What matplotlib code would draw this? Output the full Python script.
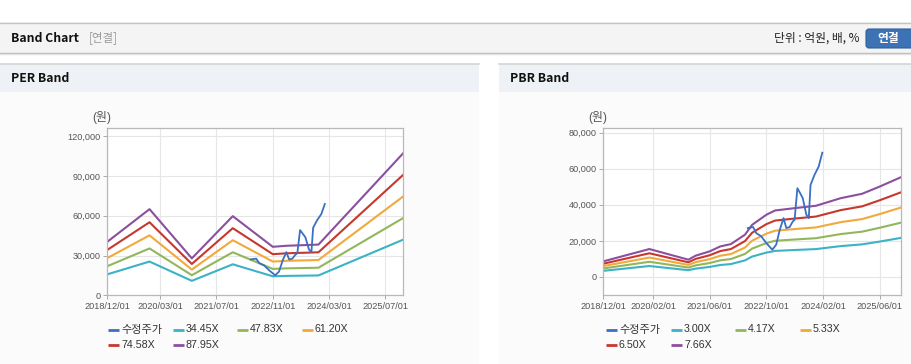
import pandas as pd
import numpy as np
import matplotlib
matplotlib.use("Agg")
import matplotlib.pyplot as plt
from matplotlib.patches import Rectangle, FancyBboxPatch
from matplotlib.ticker import FuncFormatter

plt.rcParams['font.family'] = ['Liberation Sans', 'Noto Sans CJK KR', 'DejaVu Sans']

W, H = 912, 364

# adjusted share price (수정주가)
price_dates = ["2022-04-25", "2022-06-10", "2022-07-07", "2022-08-19", "2022-10-01",
               "2022-11-22", "2022-12-25", "2023-01-25", "2023-02-26", "2023-03-22",
               "2023-04-19", "2023-05-16", "2023-06-01", "2023-06-25", "2023-07-19",
               "2023-08-10", "2023-09-10", "2023-10-01", "2023-10-16", "2023-11-19",
               "2023-12-25", "2024-01-25"]
price_values = [27100, 27650, 24300, 22500, 18800,
                15100, 17900, 26200, 32600, 27100,
                27650, 30700, 31700, 49200, 46400,
                43700, 34500, 32600, 51000, 56600,
                61200, 68900]

# PER band: EPS path and multiples
per_dates = ["2018-12-01", "2019-12-01", "2020-12-01", "2021-11-20", "2022-11-01",
             "2023-03-01", "2023-12-01", "2025-12-01"]
per_eps = [459, 739, 317, 679, 416, 425, 435, 1217]
per_multiples = [34.45, 47.83, 61.20, 74.58, 87.95]

# PBR band: BPS path and multiples
pbr_dates = ["2018-12-01", "2020-01-01", "2020-12-01", "2021-02-01", "2021-06-01",
             "2021-09-01", "2021-12-01", "2022-04-01", "2022-06-01", "2022-10-01",
             "2022-12-15", "2023-06-01", "2023-12-01", "2024-07-01", "2025-01-01",
             "2025-06-01", "2025-12-01"]
pbr_bps = [1130, 2020, 1250, 1540, 1850,
           2210, 2380, 3060, 3770, 4500,
           4810, 4980, 5150, 5700, 6020,
           6540, 7220]
pbr_multiples = [3.00, 4.17, 5.33, 6.50, 7.66]

per_ticks = ["2018/12/01", "2020/03/01", "2021/07/01", "2022/11/01", "2024/03/01", "2025/07/01"]
pbr_ticks = ["2018/12/01", "2020/02/01", "2021/06/01", "2022/10/01", "2024/02/01", "2025/06/01"]

price_color = '#3a6fc4'
band_colors = ['#3bb2c6', '#92b65a', '#f2a93b', '#c8372d', '#8c4f9f']

fig = plt.figure(figsize=(W / 100, H / 100), dpi=100)

# background layer in pixel coordinates (origin top-left)
bg = fig.add_axes([0, 0, 1, 1], zorder=-5)
bg.set_xlim(0, W)
bg.set_ylim(H, 0)
bg.axis('off')

# top header bar
bg.add_patch(Rectangle((0, 22), W, 31, facecolor='#f4f4f4', edgecolor='none'))
bg.plot([0, W], [22.5, 22.5], color='#c4c4c4', lw=1)
bg.plot([0, W], [52.5, 52.5], color='#b8b8b8', lw=1)
bg.plot([0, W], [53.5, 53.5], color='#e2e2e2', lw=1)
bg.text(11, 38, "Band Chart", fontsize=8.8, fontweight='bold', family='Noto Sans CJK KR',
        va='center', ha='left', color='#111')
bg.text(89, 38, "[연결]", fontsize=8.3, family='Noto Sans CJK KR', va='center', ha='left', color='#999')
bg.text(860, 38, "단위 : 억원, 배, %", fontsize=8.5, family='Noto Sans CJK KR',
        va='center', ha='right', color='#222')
bg.add_patch(FancyBboxPatch((866, 29), 50, 19, boxstyle="round,pad=0,rounding_size=3",
                            facecolor='#3d72b5', edgecolor='#2f5f9c', lw=0.8))
bg.text(888, 38.5, "연결", fontsize=8.5, fontweight='bold', family='Noto Sans CJK KR',
        va='center', ha='center', color='white')

# panels
for x0, x1, title in [(0, 479, "PER Band"), (499, W, "PBR Band")]:
    bg.add_patch(Rectangle((x0, 64), x1 - x0, 28, facecolor='#eef2f7', edgecolor='none'))
    bg.add_patch(Rectangle((x0, 92), x1 - x0, H - 92, facecolor='#fbfbfb', edgecolor='none'))
    bg.plot([x0, x1], [64, 64], color='#d4d4d4', lw=1.2)
    bg.text(x0 + 11, 79, title, fontsize=8.8, fontweight='bold', family='Noto Sans CJK KR',
            va='center', ha='left', color='#111')


def px_axes(left, top, right, bottom):
    return fig.add_axes([left / W, 1 - bottom / H, (right - left) / W, (bottom - top) / H])


def band_chart(ax, dates, base, multiples, ticks, ylim, yticks):
    d = pd.to_datetime(dates)
    for m, c in zip(multiples, band_colors):
        ax.plot(d, np.array(base) * m, color=c, lw=1.5, solid_joinstyle='round')
    ax.plot(pd.to_datetime(price_dates), price_values, color=price_color, lw=1.3, zorder=5)
    ax.set_xlim(pd.Timestamp("2018-12-01"), pd.Timestamp("2025-12-01"))
    ax.set_ylim(*ylim)
    ax.set_xticks(pd.to_datetime(ticks))
    ax.set_xticklabels(ticks)
    ax.set_yticks(yticks)
    ax.yaxis.set_major_formatter(FuncFormatter(lambda v, p: f"{v:,.0f}"))
    ax.grid(True, color='#e6e6e6', lw=0.8)
    ax.set_axisbelow(True)
    for s in ax.spines.values():
        s.set_color('#b8b8b8')
        s.set_linewidth(0.9)
    ax.tick_params(length=3, width=0.7, color='#aaaaaa', labelsize=6.6, labelcolor='#555555', pad=2)
    ax.set_facecolor('white')


ax1 = px_axes(107.3, 128.3, 403, 295.3)
band_chart(ax1, per_dates, per_eps, per_multiples, per_ticks, (0, 126000),
           [0, 30000, 60000, 90000, 120000])

ax2 = px_axes(603.3, 128.3, 901, 295)
band_chart(ax2, pbr_dates, pbr_bps, pbr_multiples, pbr_ticks, (-10000, 82400),
           [0, 20000, 40000, 60000, 80000])

bg.text(92, 118, "(원)", fontsize=8.6, va='center', ha='left', color='#555')
bg.text(588, 118, "(원)", fontsize=8.6, va='center', ha='left', color='#555')


def legend(left, multiples):
    labels = ["수정주가"] + [f"{m:.2f}X" for m in multiples]
    colors = [price_color] + band_colors
    offsets = [1, 66, 130, 195]
    for i, (lab, c) in enumerate(zip(labels, colors)):
        row, col = divmod(i, 4)
        y = 329.5 + row * 15.5
        x = left + offsets[col]
        bg.plot([x, x + 11], [y, y], color=c, lw=2, solid_capstyle='butt')
        size = 8.0 if i == 0 else 7.7
        bg.text(x + 13, y, lab, fontsize=size, va='center', ha='left', color='#333')


legend(107, per_multiples)
legend(605, pbr_multiples)

fig.savefig("out.png", dpi=100)
